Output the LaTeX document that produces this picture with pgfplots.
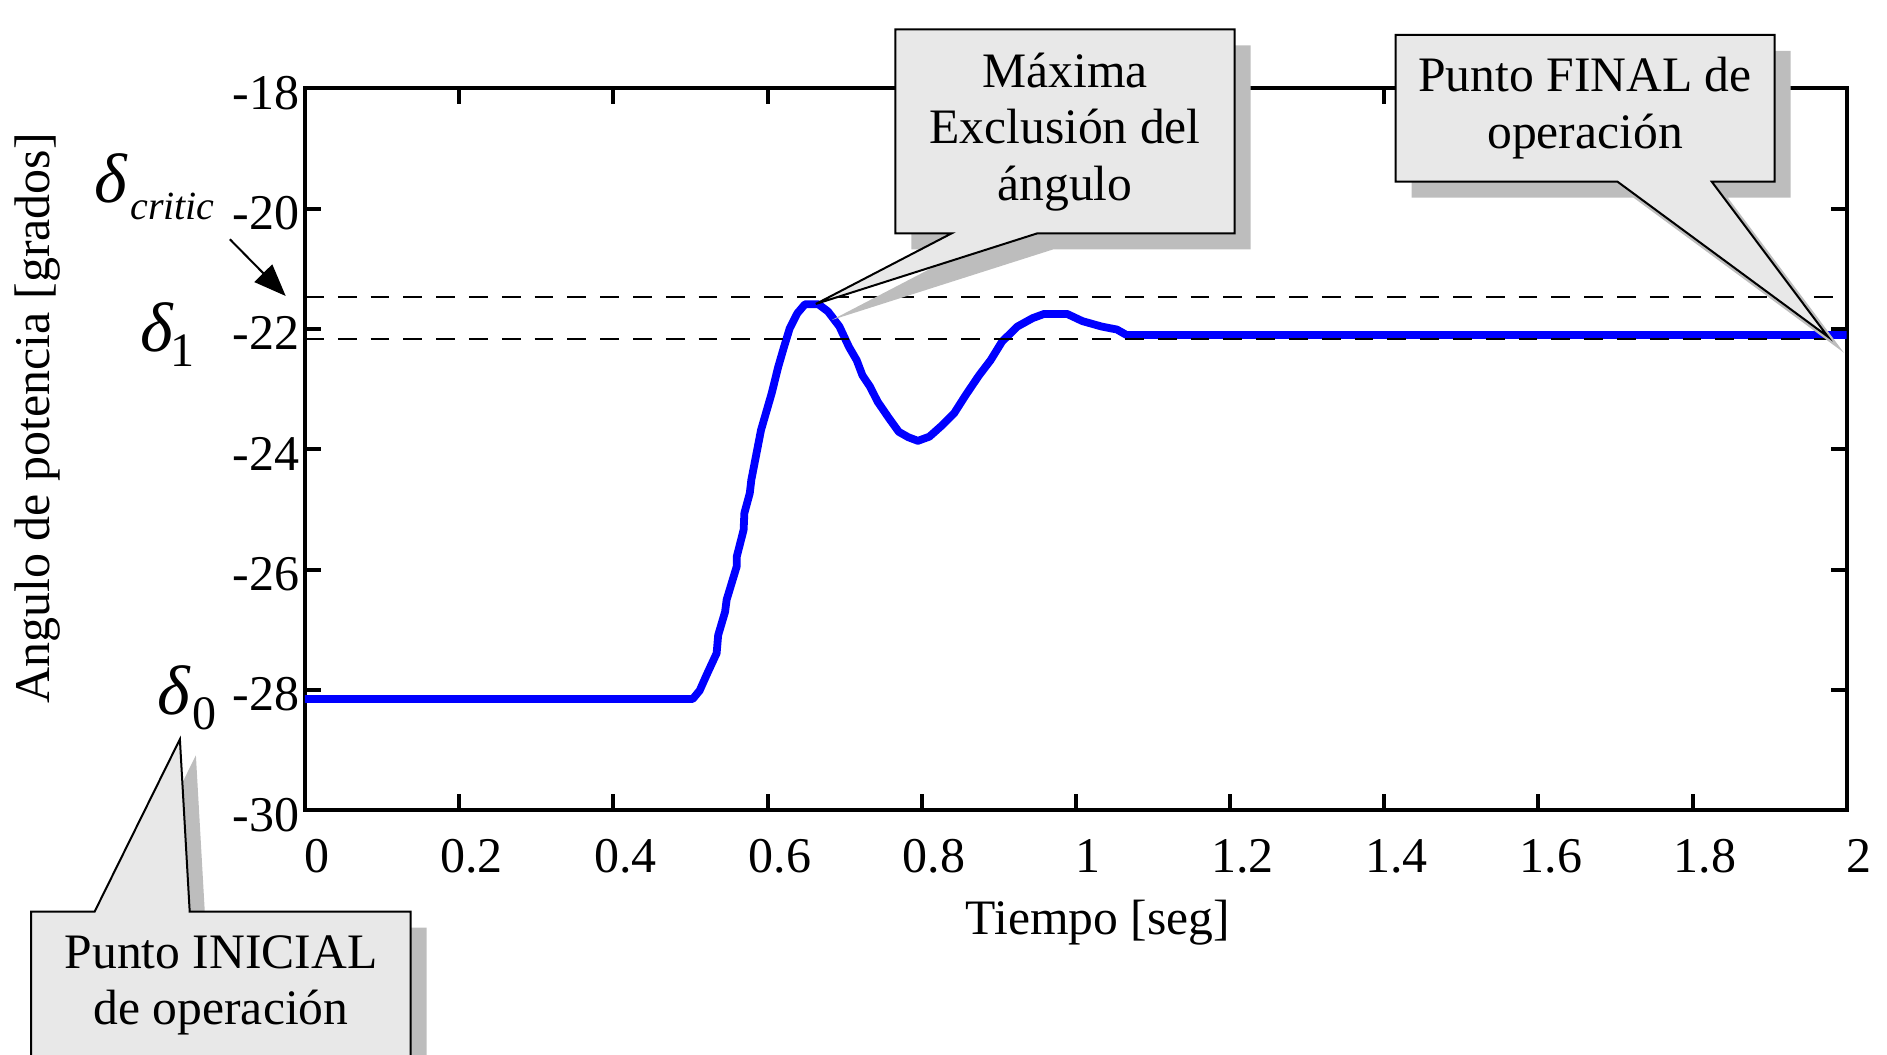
\documentclass[border=0pt]{standalone}
\usepackage{fontspec}
\setmainfont{Liberation Serif}
\usepackage{pgfplots}
\pgfplotsset{compat=1.18}
\usetikzlibrary{arrows.meta}
\definecolor{calloutfill}{HTML}{E8E8E8}
\definecolor{shadowgray}{HTML}{BDBDBD}
\begin{document}
\begin{tikzpicture}
\begin{axis}[
  at={(0,0)}, anchor=south west,
  width=385.425pt, height=180.5pt, scale only axis,
  xmin=0, xmax=2, ymin=-30, ymax=-18,
  xtick={0,0.2,0.4,0.6,0.8,1,1.2,1.4,1.6,1.8,2},
  xticklabels={0,0.2,0.4,0.6,0.8,1,1.2,1.4,1.6,1.8,2},
  ytick={-30,-28,-26,-24,-22,-20,-18},
  yticklabels={-30,-28,-26,-24,-22,-20,-18},
  tick align=inside, tick pos=both,
  major tick length=4pt,
  axis line style={line width=1pt},
  every tick/.style={black, line width=1pt},
  xticklabel style={font=\fontsize{12.5}{15}\selectfont, anchor=north, inner sep=0pt, yshift=-7pt, xshift=3.1pt},
  yticklabel style={font=\fontsize{12.5}{15}\selectfont, anchor=east, inner sep=0pt, xshift=-1.25pt, yshift=-1.1pt},
  clip=false,
]
\addplot[color=blue, line width=1.95pt, line join=round] coordinates {
(0,-28.15) (0.503,-28.15) (0.512,-28.01) (0.521,-27.75) (0.534,-27.39) (0.536,-27.09)
(0.545,-26.70) (0.547,-26.50) (0.560,-25.95) (0.560,-25.79) (0.569,-25.34) (0.570,-25.06)
(0.577,-24.73) (0.579,-24.51) (0.5916,-23.68) (0.6054,-23.07) (0.6139,-22.63) (0.6214,-22.30)
(0.6288,-21.99) (0.6387,-21.74) (0.6486,-21.59) (0.666,-21.59) (0.6785,-21.71) (0.6933,-21.96)
(0.7057,-22.30) (0.7157,-22.52) (0.7231,-22.77) (0.733,-22.96) (0.7429,-23.21) (0.7579,-23.49)
(0.7703,-23.71) (0.7827,-23.80) (0.7951,-23.86) (0.81,-23.79) (0.8249,-23.62) (0.8422,-23.40)
(0.8571,-23.10) (0.8745,-22.77) (0.8894,-22.52) (0.9043,-22.21) (0.9242,-21.96) (0.944,-21.82)
(0.9589,-21.75) (0.9886,-21.75) (1.0085,-21.87) (1.0334,-21.96) (1.0533,-22.01) (1.0657,-22.10)
(2,-22.10)
};
\addplot[black, line width=0.5pt, dash pattern=on 4.7pt off 3.5pt] coordinates {(0,-21.47) (2,-21.47)};
\addplot[black, line width=0.5pt, dash pattern=on 4.7pt off 3.5pt] coordinates {(0,-22.16) (2,-22.16)};
\end{axis}
\begin{scope}[x=0.25pt,y=-0.25pt,shift={(-76.25pt,202.575pt)}]
% y label and x label
\node[rotate=90, anchor=base, inner sep=0pt, font=\fontsize{12.5}{15}\selectfont] at (50,418.3) {Angulo de potencia [grados]};
\node[anchor=base, inner sep=0pt, font=\fontsize{12.4}{15}\selectfont] at (1098,935) {Tiempo [seg]};
% shadows
\begin{scope}[shift={(16,16)}]
\fill[shadowgray] (895.4,29.3) -- (1234.6,29.3) -- (1234.6,233.3) -- (1037.6,233.3) -- (815.8,304) -- (951.8,233.3) -- (895.4,233.3) -- cycle;
\fill[shadowgray] (1395.5,35) -- (1774.7,35) -- (1774.7,181.7) -- (1711.8,181.7) -- (1827.9,336.7) -- (1617.5,181.7) -- (1395.5,181.7) -- cycle;
\fill[shadowgray] (31.25,911.7) -- (94.6,911.7) -- (179.9,739.3) -- (189.7,911.7) -- (410.7,911.7) -- (410.7,1080) -- (31.25,1080) -- cycle;
\end{scope}
% callouts
\filldraw[fill=calloutfill, draw=black, line width=0.5pt] (895.4,29.3) -- (1234.6,29.3) -- (1234.6,233.3) -- (1037.6,233.3) -- (815.8,304) -- (951.8,233.3) -- (895.4,233.3) -- cycle;
\filldraw[fill=calloutfill, draw=black, line width=0.5pt] (1395.5,35) -- (1774.7,35) -- (1774.7,181.7) -- (1711.8,181.7) -- (1827.9,336.7) -- (1617.5,181.7) -- (1395.5,181.7) -- cycle;
\filldraw[fill=calloutfill, draw=black, line width=0.5pt] (31.25,911.7) -- (94.6,911.7) -- (179.9,739.3) -- (189.7,911.7) -- (410.7,911.7) -- (410.7,1080) -- (31.25,1080) -- cycle;
\begin{scope}[every node/.style={anchor=base, inner sep=0pt, font=\fontsize{12.4}{15}\selectfont}]
\node at (1065,87.3) {Máxima};
\node at (1065,144) {Exclusión del};
\node at (1065,201) {ángulo};
\node at (1585,91.7) {Punto FINAL de};
\node at (1585,148.3) {operación};
\node at (221,968.3) {Punto INICIAL};
\node at (221,1025) {de operación};
\end{scope}
% delta labels
\node[anchor=base west, inner sep=0pt, font=\fontsize{17.5}{20}\selectfont\itshape] at (94,203) {δ};
\node[anchor=base west, inner sep=0pt, font=\fontsize{10}{12}\selectfont\itshape] at (129.5,220) {critic};
\node[anchor=base west, inner sep=0pt, font=\fontsize{17.5}{20}\selectfont\itshape] at (140,351.7) {δ};
\node[anchor=base west, inner sep=0pt, font=\fontsize{12}{14}\selectfont] at (170,367) {1};
\node[anchor=base west, inner sep=0pt, font=\fontsize{17.5}{20}\selectfont\itshape] at (156.5,715) {δ};
\node[anchor=base west, inner sep=0pt, font=\fontsize{12}{14}\selectfont] at (192,730) {0};
\draw[line width=0.5pt, -{Triangle[length=8pt,width=6.2pt]}] (229.9,239.3) -- (285.7,296);
\end{scope}
\pgfresetboundingbox
\begin{scope}[x=0.25pt,y=-0.25pt,shift={(-76.25pt,202.575pt)}]
\path[use as bounding box] (0,0) rectangle (1887,1055);
\end{scope}
\end{tikzpicture}
\end{document}
